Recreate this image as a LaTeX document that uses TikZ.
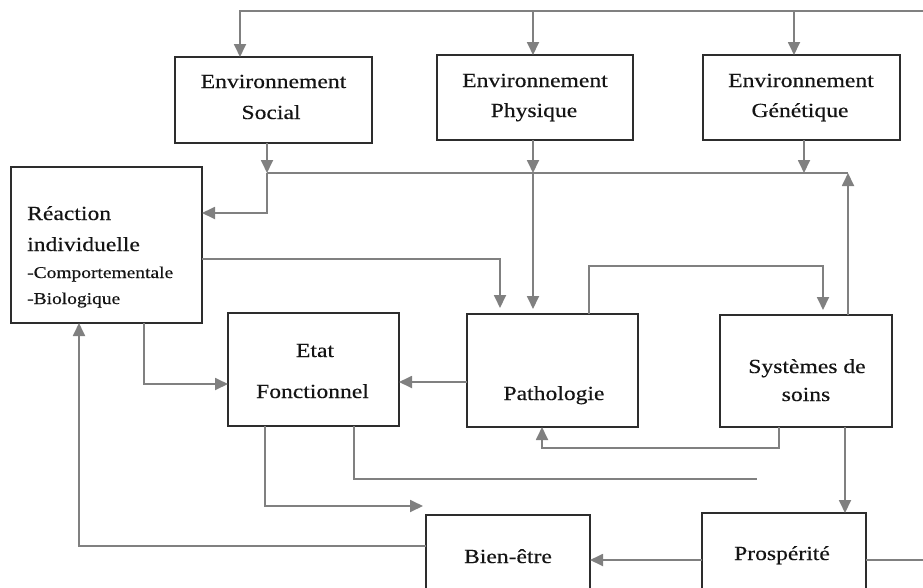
\documentclass[tikz,border=0pt]{standalone}
\usepackage{fontspec}
\setmainfont{Liberation Serif}[FakeStretch=1.18,FakeBold=0.35]
\usetikzlibrary{arrows.meta,calc}
\definecolor{conncol}{RGB}{128,128,128}
\definecolor{boxcol}{RGB}{45,45,45}
\definecolor{txtcol}{RGB}{20,20,20}
\tikzset{
  box/.style={draw=boxcol, line width=1.6pt, inner sep=0pt, outer sep=0pt},
  lbl/.style={anchor=base, inner sep=0pt, text=txtcol, font=\fontsize{20}{24}\selectfont},
  lbll/.style={anchor=base west, inner sep=0pt, text=txtcol, font=\fontsize{20}{24}\selectfont},
  lbls/.style={anchor=base west, inner sep=0pt, text=txtcol, font=\fontsize{16.5}{20}\selectfont},
  conn/.style={draw=conncol, line width=1.8pt},
  arr/.style={conn, -{Triangle[length=13pt,width=12pt]}}
}
\begin{document}
\begin{tikzpicture}[x=1pt,y=-1pt]
\useasboundingbox (0,0) rectangle (923,587);
\fill[white] (0,0) rectangle (923,587);

% boxes
\node[box, minimum width=197pt, minimum height=86pt] (soc) at (273.5,100) {};
\node[box, minimum width=196pt, minimum height=85pt] (phy) at (535,97.5) {};
\node[box, minimum width=197pt, minimum height=85pt] (gen) at (801.5,97.5) {};
\node[box, minimum width=191pt, minimum height=156pt] (rea) at (106.5,245) {};
\node[box, minimum width=171pt, minimum height=113pt] (eta) at (313.5,369.5) {};
\node[box, minimum width=171pt, minimum height=113pt] (pat) at (552.5,370.5) {};
\node[box, minimum width=172pt, minimum height=112pt] (sys) at (806,371) {};
\node[box, minimum width=164pt, minimum height=85pt] (bie) at (508,557.5) {};
\node[box, minimum width=164pt, minimum height=87pt] (pro) at (784,556.5) {};

% texts
\node[lbl] (socA) at (273.5,88) {Environnement};
\node[lbl] (socB) at (271,119) {Social};
\node[lbl] (phyA) at (535,87) {Environnement};
\node[lbl] (phyB) at (534,117) {Physique};
\node[lbl] (genA) at (801,87) {Environnement};
\node[lbl] (genB) at (800,117) {Génétique};
\node[lbll] (reaA) at (27,220) {Réaction};
\node[lbll] (reaB) at (27,251) {individuelle};
\node[lbls] (reaC) at (27,278) {-Comportementale};
\node[lbls] (reaD) at (27,304) {-Biologique};
\node[lbl] (etaA) at (315,357) {Etat};
\node[lbl] (etaB) at (312.5,398) {Fonctionnel};
\node[lbl] (patA) at (554,400) {Pathologie};
\node[lbl] (sysA) at (807,373) {Systèmes de};
\node[lbl] (sysB) at (806,401) {soins};
\node[lbl] (bieA) at (508,563) {Bien-être};
\node[lbl] (proA) at (782,560) {Prospérité};

% junction coordinates
\coordinate (tR) at (923,11);
\coordinate (tS) at (240,11);
\coordinate (tP) at (533,11);
\coordinate (tG) at (794,11);
\coordinate (jS) at (267,173);
\coordinate (jSb) at (267,213);
\coordinate (jP) at (533,173);
\coordinate (jG) at (804,173);
\coordinate (jE) at (848,173);
\coordinate (kR) at (500,259);
\coordinate (kP1) at (589,266);
\coordinate (kP2) at (823,266);
\coordinate (kE) at (144,384);
\coordinate (kF) at (433,382);
\coordinate (kB) at (79,546);
\coordinate (kC1) at (265,506);
\coordinate (kC2) at (423,506);
\coordinate (kD1) at (354,479);
\coordinate (kD2) at (757,479);
\coordinate (kS1) at (779,448);
\coordinate (kS2) at (542,448);
\coordinate (kT) at (845,470);
\coordinate (kU) at (650,560);
\coordinate (kV) at (923,560);

% connectors
\draw[arr] (tR) -- (tS) -- (tS |- soc.north);
\draw[arr] (tP) -- (tP |- phy.north);
\draw[arr] (tG) -- (tG |- gen.north);
\draw[arr] (soc.south -| jS) -- (jS);
\draw[arr] (jS) -- (jSb) -- (rea.east |- jSb);
\draw[conn] (jS) -- (jE);
\draw[arr] (phy.south -| jP) -- (jP);
\draw[arr, shorten >=5pt] (jP) -- (pat.north -| jP);
\draw[arr] (gen.south -| jG) -- (jG);
\draw[arr] (sys.north -| jE) -- (jE);
\draw[arr, shorten >=6pt] (rea.east |- kR) -- (kR) -- (pat.north -| kR);
\draw[arr, shorten >=5pt] (pat.north -| kP1) -- (kP1) -- (kP2) -- (sys.north -| kP2);
\draw[arr] (rea.south -| kE) -- (kE) -- (eta.west |- kE);
\draw[arr] (pat.west |- kF) -- (eta.east |- kF);
\draw[arr] (bie.west |- kB) -- (kB) -- (rea.south -| kB);
\draw[arr] (eta.south -| kC1) -- (kC1) -- (kC2);
\draw[conn] (eta.south -| kD1) -- (kD1) -- (kD2);
\draw[arr] (sys.south -| kS1) -- (kS1) -- (kS2) -- (pat.south -| kS2);
\draw[arr] (sys.south -| kT) -- (pro.north -| kT);
\draw[arr] (pro.west |- kU) -- (bie.east |- kU);
\draw[conn] (pro.east |- kV) -- (kV);
\end{tikzpicture}
\end{document}
